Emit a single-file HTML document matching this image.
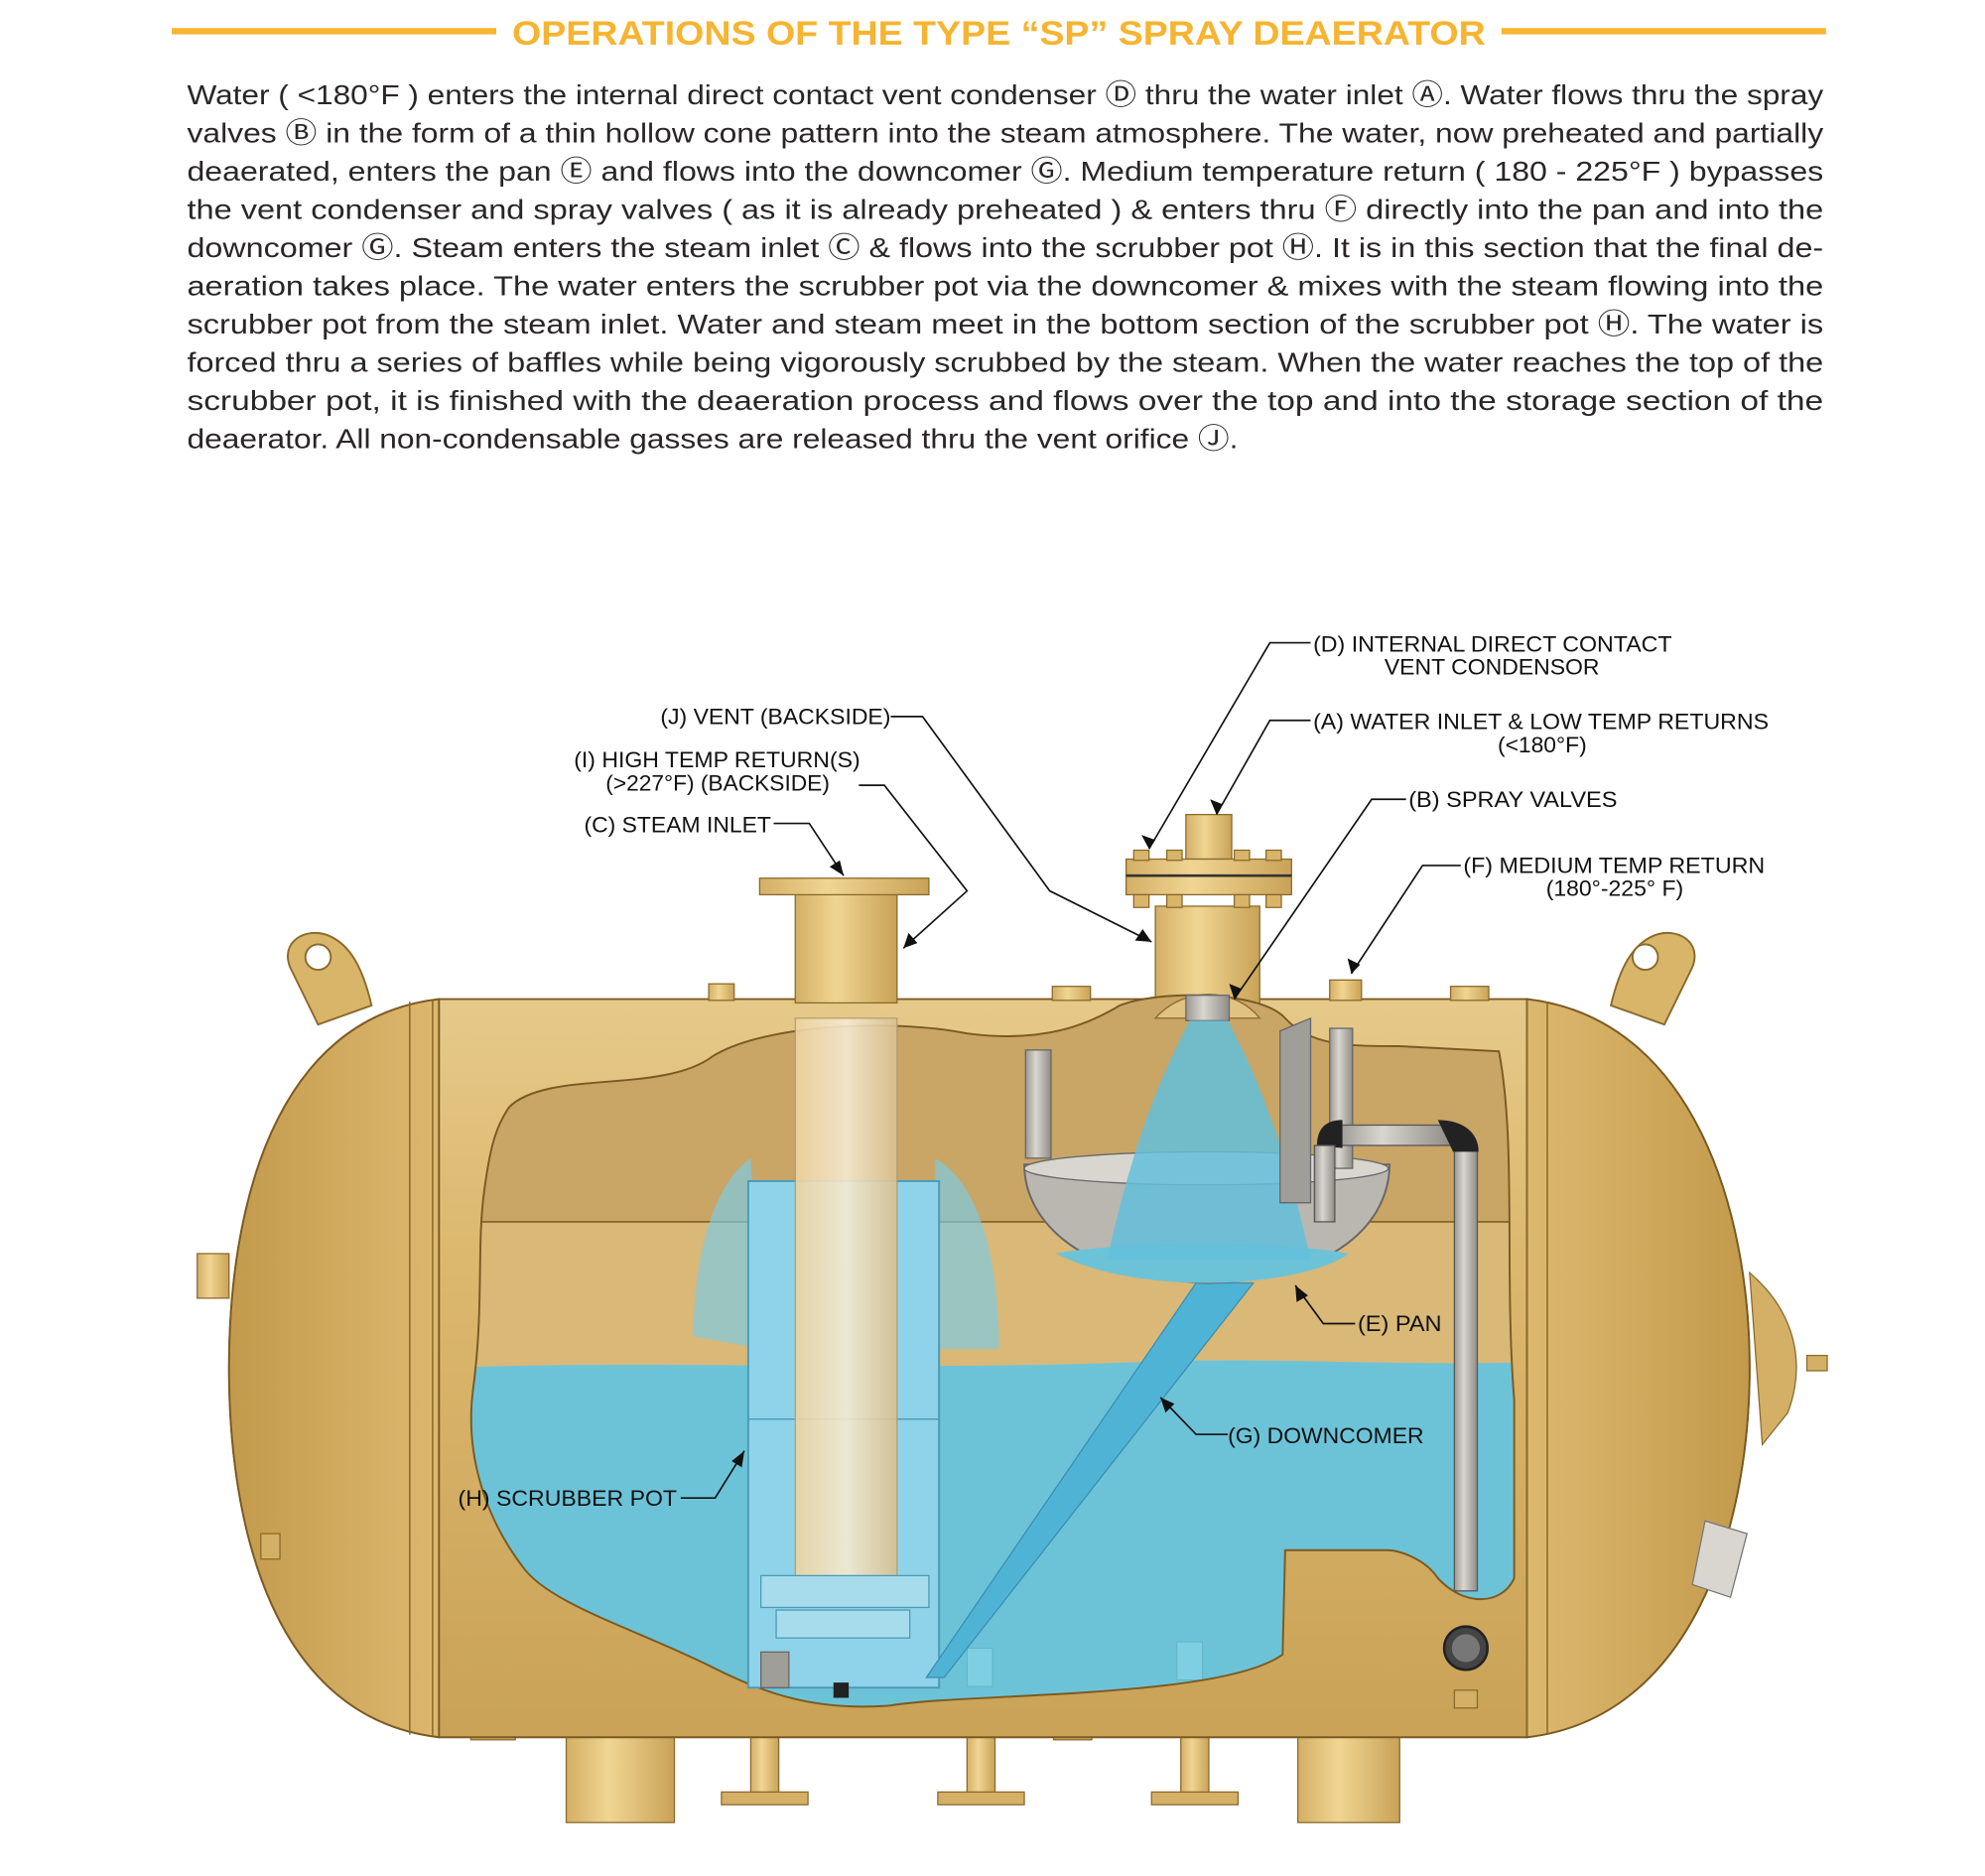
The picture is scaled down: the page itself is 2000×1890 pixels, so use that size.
<!DOCTYPE html>
<html><head><meta charset="utf-8"><style>
html,body{margin:0;padding:0;background:#fff;}
svg{display:block;}
</style></head><body>
<svg width="2000" height="1890" viewBox="0 0 1560 1474" preserveAspectRatio="none" xmlns="http://www.w3.org/2000/svg">
<defs>
<linearGradient id="shell" x1="0" y1="0" x2="0" y2="1">
<stop offset="0" stop-color="#e6c98a"/><stop offset="0.35" stop-color="#dcb86e"/><stop offset="1" stop-color="#c9a257"/></linearGradient>
<linearGradient id="head" x1="0" y1="0" x2="1" y2="0">
<stop offset="0" stop-color="#c39a4c"/><stop offset="1" stop-color="#dcb86e"/></linearGradient>
<linearGradient id="headr" x1="0" y1="0" x2="1" y2="0">
<stop offset="0" stop-color="#dcb86e"/><stop offset="1" stop-color="#c39a4c"/></linearGradient>
<linearGradient id="pipe" x1="0" y1="0" x2="1" y2="0">
<stop offset="0" stop-color="#d4af66"/><stop offset="0.4" stop-color="#f0d592"/><stop offset="1" stop-color="#c9a257"/></linearGradient>
<linearGradient id="gray" x1="0" y1="0" x2="1" y2="0">
<stop offset="0" stop-color="#9a9890"/><stop offset="0.4" stop-color="#d8d6cf"/><stop offset="1" stop-color="#8f8d86"/></linearGradient>
<linearGradient id="inner" x1="0" y1="0" x2="1" y2="0">
<stop offset="0" stop-color="#eed3a0"/><stop offset="0.5" stop-color="#f5ead2"/><stop offset="1" stop-color="#d9c08f"/></linearGradient>
<clipPath id="cut"><path id="cutp" d="M400,870 C430,840 520,860 560,830 C600,805 700,800 760,812 C820,820 855,805 880,790 C910,778 990,778 1010,800 C1030,822 1060,822 1100,822 L1178,826 C1192,900 1182,1000 1190,1100 L1190,1240 C1180,1262 1150,1262 1130,1240 C1120,1225 1100,1218 1090,1218 L1010,1218 L1008,1300 C960,1335 760,1330 700,1340 C640,1345 600,1330 560,1310 C500,1280 430,1260 410,1230 C380,1190 365,1140 372,1090 C380,1030 375,980 380,940 C385,900 390,885 400,870 Z"/></clipPath>
</defs>

<rect x="135" y="22" width="255" height="5" fill="#f6b431"/>
<rect x="1180" y="22" width="255" height="5" fill="#f6b431"/>
<text x="785" y="35" text-anchor="middle" font-family="Liberation Sans, sans-serif" font-weight="bold" font-size="27" fill="#f6b431" textLength="765" lengthAdjust="spacingAndGlyphs">OPERATIONS OF THE TYPE “SP” SPRAY DEAERATOR</text>

<g font-family="Liberation Sans, DejaVu Sans, sans-serif" font-size="22" fill="#2a2627">
<text x="147" y="82" textLength="1286" lengthAdjust="spacingAndGlyphs">Water ( &lt;180°F ) enters the internal direct contact vent condenser Ⓓ thru the water inlet Ⓐ. Water flows thru the spray</text>
<text x="147" y="112" textLength="1286" lengthAdjust="spacingAndGlyphs">valves Ⓑ in the form of a thin hollow cone pattern into the steam atmosphere. The water, now preheated and partially</text>
<text x="147" y="142" textLength="1286" lengthAdjust="spacingAndGlyphs">deaerated, enters the pan Ⓔ and flows into the downcomer Ⓖ. Medium temperature return ( 180 - 225°F ) bypasses</text>
<text x="147" y="172" textLength="1286" lengthAdjust="spacingAndGlyphs">the vent condenser and spray valves ( as it is already preheated ) &amp; enters thru Ⓕ directly into the pan and into the</text>
<text x="147" y="202" textLength="1286" lengthAdjust="spacingAndGlyphs">downcomer Ⓖ. Steam enters the steam inlet Ⓒ &amp; flows into the scrubber pot Ⓗ. It is in this section that the final de-</text>
<text x="147" y="232" textLength="1286" lengthAdjust="spacingAndGlyphs">aeration takes place. The water enters the scrubber pot via the downcomer &amp; mixes with the steam flowing into the</text>
<text x="147" y="262" textLength="1286" lengthAdjust="spacingAndGlyphs">scrubber pot from the steam inlet. Water and steam meet in the bottom section of the scrubber pot Ⓗ. The water is</text>
<text x="147" y="292" textLength="1286" lengthAdjust="spacingAndGlyphs">forced thru a series of baffles while being vigorously scrubbed by the steam. When the water reaches the top of the</text>
<text x="147" y="322" textLength="1286" lengthAdjust="spacingAndGlyphs">scrubber pot, it is finished with the deaeration process and flows over the top and into the storage section of the</text>
<text x="147" y="352" textLength="826" lengthAdjust="spacingAndGlyphs">deaerator. All non-condensable gasses are released thru the vent orifice Ⓙ.</text>
</g>

<g stroke="#8a6a2c" stroke-width="1">
<rect x="445" y="1300" width="85" height="132" fill="url(#pipe)"/>
<rect x="1020" y="1300" width="80" height="132" fill="url(#pipe)"/>
<rect x="590" y="1360" width="22" height="50" fill="url(#pipe)"/>
<rect x="567" y="1408" width="68" height="10" fill="#d4af66"/>
<rect x="760" y="1360" width="22" height="50" fill="url(#pipe)"/>
<rect x="737" y="1408" width="68" height="10" fill="#d4af66"/>
<rect x="928" y="1360" width="22" height="50" fill="url(#pipe)"/>
<rect x="905" y="1408" width="68" height="10" fill="#d4af66"/>
<rect x="370" y="1355" width="35" height="12" fill="#d4af66"/>
<rect x="828" y="1355" width="30" height="12" fill="#d4af66"/>
</g>

<g fill="#d9b56a" stroke="#8a6a2c" stroke-width="1.5">
<path d="M228,760 C220,740 240,728 258,735 C275,742 285,760 292,790 L250,805 Z"/>
<circle cx="250" cy="752" r="10" fill="#fff"/>
<path d="M1330,760 C1338,740 1318,728 1300,735 C1283,742 1273,760 1266,790 L1308,805 Z"/>
<circle cx="1293" cy="752" r="10" fill="#fff"/>
</g>

<path d="M345,785 L1200,785 C1330,800 1375,950 1375,1075 C1375,1200 1330,1350 1200,1365 L345,1365 C215,1350 180,1200 180,1075 C180,950 215,800 345,785 Z" fill="url(#shell)" stroke="#7a5a22" stroke-width="1.5"/>
<path d="M345,785 C215,800 180,950 180,1075 C180,1200 215,1350 345,1365 Z" fill="url(#head)" stroke="#7a5a22" stroke-width="1.5"/>
<path d="M1200,785 C1330,800 1375,950 1375,1075 C1375,1200 1330,1350 1200,1365 Z" fill="url(#headr)" stroke="#7a5a22" stroke-width="1.5"/>
<g stroke="#8a6a2c" stroke-width="1.2" fill="none">
<line x1="322" y1="787" x2="322" y2="1363"/><line x1="340" y1="786" x2="340" y2="1364"/>
<line x1="1200" y1="786" x2="1200" y2="1364"/><line x1="1216" y1="787" x2="1216" y2="1362"/>
</g>
<rect x="155" y="985" width="25" height="35" fill="url(#pipe)" stroke="#8a6a2c"/>
<rect x="205" y="1205" width="15" height="20" fill="#d4af66" stroke="#8a6a2c"/>
<path d="M1375,1000 C1410,1030 1420,1070 1405,1110 L1385,1135 Z" fill="#d4af66" stroke="#8a6a2c"/>
<rect x="1420" y="1065" width="16" height="12" fill="#d4af66" stroke="#8a6a2c"/>
<path d="M1340,1195 L1373,1205 L1360,1255 L1330,1245 Z" fill="#d8d6cf" stroke="#777"/>
<g fill="url(#pipe)" stroke="#8a6a2c">
<rect x="557" y="773" width="20" height="13"/><rect x="827" y="775" width="30" height="11"/>
<rect x="1045" y="770" width="25" height="16"/><rect x="1140" y="775" width="30" height="11"/>
</g>

<rect x="625" y="700" width="80" height="88" fill="url(#pipe)" stroke="#8a6a2c"/>
<rect x="597" y="690" width="133" height="13" fill="url(#pipe)" stroke="#8a6a2c"/>
<rect x="908" y="712" width="82" height="90" fill="url(#pipe)" stroke="#8a6a2c"/>
<rect x="932" y="640" width="36" height="35" fill="url(#pipe)" stroke="#8a6a2c"/>
<rect x="885" y="675" width="130" height="28" fill="url(#pipe)" stroke="#8a6a2c"/>
<line x1="885" y1="688" x2="1015" y2="688" stroke="#333" stroke-width="2"/>
<g fill="#d9b56a" stroke="#8a6a2c">
<rect x="891" y="668" width="12" height="8"/><rect x="917" y="668" width="12" height="8"/><rect x="970" y="668" width="12" height="8"/><rect x="995" y="668" width="12" height="8"/>
<rect x="891" y="703" width="12" height="10"/><rect x="917" y="703" width="12" height="10"/><rect x="970" y="703" width="12" height="10"/><rect x="995" y="703" width="12" height="10"/>
</g>

<g clip-path="url(#cut)">
<rect x="350" y="770" width="860" height="600" fill="#c9a566"/>
<rect x="350" y="960" width="860" height="115" fill="#d9b878"/>
<line x1="350" y1="960" x2="1210" y2="960" stroke="#8a6a2c" stroke-width="1.5"/>
<path d="M350,1075 C500,1068 700,1078 900,1070 C1000,1066 1100,1074 1210,1070 L1210,1370 L350,1370 Z" fill="#6cc3d8"/>
<rect x="760" y="1295" width="20" height="30" fill="#7fcfe3" stroke="#5ab" stroke-width="0.5"/>
<rect x="925" y="1290" width="20" height="30" fill="#7fcfe3" stroke="#5ab" stroke-width="0.5"/>
</g>
<use href="#cutp" fill="none" stroke="#7a5a22" stroke-width="1.5"/>
<path d="M908,800 C930,775 970,775 990,800 Z" fill="#e0c283" stroke="#8a6a2c"/>
<rect x="932" y="782" width="34" height="20" fill="url(#gray)" stroke="#666"/>

<g fill="#7fcbe0" opacity="0.7">
<path d="M545,1050 C545,990 560,930 590,910 L600,1060 Z"/>
<path d="M735,910 C770,930 785,990 785,1060 L735,1060 Z"/>
</g>

<rect x="588" y="928" width="150" height="398" fill="#8fd3ea" stroke="#4a9ab5" stroke-width="1.5"/>
<line x1="588" y1="1115" x2="738" y2="1115" stroke="#4a9ab5"/>
<rect x="625" y="800" width="80" height="440" fill="url(#inner)" opacity="0.9" stroke="#b09a70"/>
<rect x="598" y="1238" width="132" height="25" fill="#a6dcec" stroke="#4a9ab5"/>
<rect x="610" y="1265" width="105" height="22" fill="#a6dcec" stroke="#4a9ab5"/>
<rect x="598" y="1298" width="22" height="28" fill="#a09e98" stroke="#666"/>
<rect x="655" y="1322" width="12" height="12" fill="#222"/>

<path d="M940,1008 L985,1008 L742,1318 L728,1318 Z" fill="#4fb3d6" stroke="#3a8fb0"/>

<path d="M805,915 L1092,915 C1092,960 1050,1005 950,1008 C850,1005 805,960 805,915 Z" fill="#b9b7b0" stroke="#666" stroke-width="1.5"/>
<ellipse cx="948" cy="918" rx="143" ry="13" fill="#d8d6cf" stroke="#666"/>
<path d="M830,985 C880,975 1010,975 1060,985 C1040,1000 990,1008 950,1008 C900,1008 860,1000 830,985 Z" fill="#6cc3d8"/>
<path d="M935,802 L965,802 C990,850 1010,900 1030,990 L870,990 C890,900 910,850 935,802 Z" fill="#63bfdc" opacity="0.85"/>
<rect x="806" y="825" width="20" height="85" fill="url(#gray)" stroke="#666"/>
<rect x="1045" y="808" width="18" height="110" fill="url(#gray)" stroke="#666"/>
<path d="M1006,810 L1030,800 L1030,945 L1006,945 Z" fill="#a09e98" stroke="#666"/>
<rect x="1050" y="884" width="90" height="16" fill="url(#gray)" stroke="#555"/>
<rect x="1143" y="900" width="18" height="350" fill="url(#gray)" stroke="#555"/>
<path d="M1035,900 C1035,884 1045,880 1055,880 L1055,902 Z" fill="#222"/>
<path d="M1130,880 C1150,880 1162,890 1162,905 L1142,905 Z" fill="#222"/>
<rect x="1033" y="900" width="16" height="60" fill="url(#gray)" stroke="#555"/>
<circle cx="1152" cy="1295" r="17" fill="#444" stroke="#222" stroke-width="2"/>
<circle cx="1152" cy="1295" r="11" fill="#777"/>
<rect x="1143" y="1328" width="18" height="14" fill="#d4af66" stroke="#8a6a2c"/>

<g stroke="#111" stroke-width="1.3" fill="none">
<path d="M1030,505 L998,505 L903,667"/>
<path d="M1030,566 L998,566 L956,640"/>
<path d="M1105,628 L1078,628 L970,785"/>
<path d="M1148,680 L1118,680 L1062,765"/>
<path d="M700,563 L725,563 L825,700 L905,740"/>
<path d="M675,617 L695,617 L760,700 L710,745"/>
<path d="M608,647 L636,647 L663,688"/>
<path d="M1065,1040 L1040,1040 L1018,1010"/>
<path d="M965,1127 L940,1127 L912,1098"/>
<path d="M535,1177 L562,1177 L585,1140"/>
</g>
<g fill="#111">
<path d="M903,667 L897,656 L908,660 Z"/>
<path d="M956,640 L951,628 L961,632 Z"/>
<path d="M970,785 L966,773 L976,777 Z"/>
<path d="M1062,765 L1059,753 L1069,758 Z"/>
<path d="M905,740 L892,739 L898,730 Z"/>
<path d="M710,745 L714,733 L721,741 Z"/>
<path d="M663,688 L652,681 L660,676 Z"/>
<path d="M1018,1010 L1028,1018 L1019,1023 Z"/>
<path d="M912,1098 L923,1103 L916,1110 Z"/>
<path d="M585,1140 L583,1153 L575,1148 Z"/>
</g>
<g font-family="Liberation Sans, sans-serif" font-size="17" fill="#111">
<text x="1032" y="512" textLength="282" lengthAdjust="spacingAndGlyphs">(D) INTERNAL DIRECT CONTACT</text>
<text x="1088" y="530" textLength="169" lengthAdjust="spacingAndGlyphs">VENT CONDENSOR</text>
<text x="519" y="569" textLength="181" lengthAdjust="spacingAndGlyphs">(J) VENT (BACKSIDE)</text>
<text x="1032" y="573" textLength="358" lengthAdjust="spacingAndGlyphs">(A) WATER INLET &amp; LOW TEMP RETURNS</text>
<text x="1177" y="591" textLength="70" lengthAdjust="spacingAndGlyphs">(&lt;180°F)</text>
<text x="451" y="603" textLength="225" lengthAdjust="spacingAndGlyphs">(I) HIGH TEMP RETURN(S)</text>
<text x="476" y="621" textLength="176" lengthAdjust="spacingAndGlyphs">(&gt;227°F) (BACKSIDE)</text>
<text x="1107" y="634" textLength="164" lengthAdjust="spacingAndGlyphs">(B) SPRAY VALVES</text>
<text x="459" y="654" textLength="147" lengthAdjust="spacingAndGlyphs">(C) STEAM INLET</text>
<text x="1150" y="686" textLength="237" lengthAdjust="spacingAndGlyphs">(F) MEDIUM TEMP RETURN</text>
<text x="1215" y="704" textLength="108" lengthAdjust="spacingAndGlyphs">(180°-225° F)</text>
<text x="1067" y="1046" textLength="66" lengthAdjust="spacingAndGlyphs">(E) PAN</text>
<text x="965" y="1134" textLength="154" lengthAdjust="spacingAndGlyphs">(G) DOWNCOMER</text>
<text x="360" y="1183" textLength="172" lengthAdjust="spacingAndGlyphs">(H) SCRUBBER POT</text>
</g>
</svg>
</body></html>
